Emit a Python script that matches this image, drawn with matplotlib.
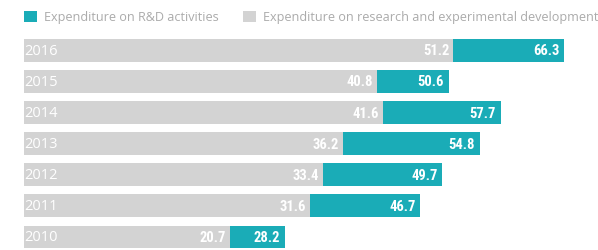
import matplotlib
matplotlib.use('Agg')
import matplotlib.pyplot as plt
from matplotlib.patches import Patch

years = ['2016', '2015', '2014', '2013', '2012', '2011', '2010']
research_dev = [51.2, 40.8, 41.6, 36.2, 33.4, 31.6, 20.7]      # grey series
rd_activities = [66.3, 50.6, 57.7, 54.8, 49.7, 46.7, 28.2]     # teal series
series_names = ['Expenditure on R&D activities',
                'Expenditure on research and experimental development']

TEAL = '#1aacb7'
GREY = '#d3d3d3'
LEG_TXT = '#ababab'

fig = plt.figure(figsize=(5.98, 2.51), dpi=100)
ax = fig.add_axes([24 / 598, 0, 1 - 24 / 598, 1])
XMIN, XMAX = -7.40, 70.94
ax.set_xlim(XMIN, XMAX)
ax.set_ylim(6.42, -1.65)
ax.axis('off')

pos = list(range(len(years)))
h = 0.73
ax.barh(pos, [g - XMIN for g in research_dev], left=XMIN, height=h,
        color=GREY, linewidth=0)
ax.barh(pos, [t - g for t, g in zip(rd_activities, research_dev)],
        left=research_dev, height=h, color=TEAL, linewidth=0)

val_font = dict(family='Roboto Condensed', weight='bold', size=10.5,
                color='white')
for i, (y, g, t) in enumerate(zip(years, research_dev, rd_activities)):
    ax.annotate(y, xy=(0, i), xycoords=('axes fraction', 'data'),
                xytext=(0.3, 0), textcoords='offset points', ha='left',
                va='center', color='white', family='Open Sans', size=10.5)
    ax.annotate(f'{g:.1f}', xy=(g, i), xytext=(-3, 0),
                textcoords='offset points', ha='right', va='center', **val_font)
    ax.annotate(f'{t:.1f}', xy=(t, i), xytext=(-3.5, 0),
                textcoords='offset points', ha='right', va='center', **val_font)

leg_kw = dict(frameon=False, handlelength=1.0, handleheight=1.0,
              handletextpad=0.55, borderpad=0, borderaxespad=0, labelcolor=LEG_TXT,
              prop=dict(family='Open Sans', size=9.1))
fig.legend(handles=[Patch(color=TEAL, linewidth=0)], labels=[series_names[0]],
           loc='center left', bbox_to_anchor=(24 / 598, 1 - 18 / 251), **leg_kw)
fig.legend(handles=[Patch(color=GREY, linewidth=0)], labels=[series_names[1]],
           loc='center left', bbox_to_anchor=(243 / 598, 1 - 18 / 251), **leg_kw)

fig.savefig('out.png', dpi=100)
